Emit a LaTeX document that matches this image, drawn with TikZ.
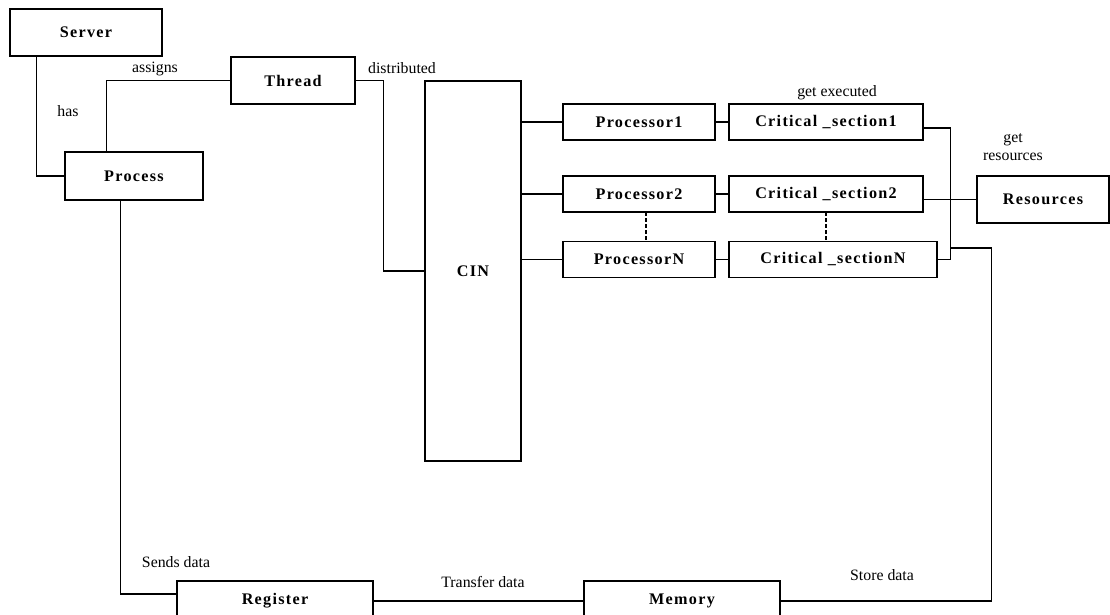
\documentclass[tikz,border=0pt]{standalone}
\usepackage{fontspec}
\setmainfont{Liberation Serif}
\newfontfamily\boxfont[LetterSpace=8]{Liberation Serif}

\begin{document}
\begin{tikzpicture}[font = \fontsize{9}{10.5}\selectfont,
    box/.style = {draw, line width=0.6pt, minimum height=0.72cm, inner sep=0pt,
                  font=\boxfont\fontsize{9.2}{10.5}\selectfont\bfseries},
    link/.style = {line width=0.6pt},
    dots/.style = {line width=1.5pt, dash pattern=on 2.2pt off 1.2pt}]
            \clip (0,0) rectangle (22.2,12.3);

            \node[box, minimum width=3.04cm, minimum height=0.94cm] (server) at (1.72,11.65) {Server};
            \node[box, minimum width=2.48cm, minimum height=0.94cm] (thread) at (5.86,10.69) {Thread};
            \node[box, minimum width=2.76cm, minimum height=0.96cm] (process) at (2.68,8.78) {Process};
            \node[box, minimum width=1.92cm, minimum height=7.6cm] (cin) at (9.46,6.88) {CIN};

            \node[box, minimum width=3.04cm] (proc1) at (12.78,9.86) {Processor1};
            \node[box, minimum width=3.04cm] (proc2) at (12.78,8.42) {Processor2};
            \node[box, minimum width=3.04cm] (procN) at (12.78,7.11) {ProcessorN};

            \node[box, minimum width=3.88cm] (crit1) at (16.52,9.86) {Critical \_section1};
            \node[box, minimum width=3.88cm] (crit2) at (16.52,8.42) {Critical \_section2};
            \node[box, minimum width=4.16cm] (critN) at (16.66,7.11) {Critical \_sectionN};

            \node[box, minimum width=2.64cm, minimum height=0.94cm] (res) at (20.86,8.31) {Resources};
            \node[box, minimum width=3.92cm, minimum height=0.8cm] (register) at (5.5,0.28) {Register};
            \node[box, minimum width=3.92cm, minimum height=0.8cm] (memory) at (13.64,0.28) {Memory};

            \coordinate (bus) at (19.0,7.34);

            % left side
            \draw[link] ([xshift=0.54cm]server.south west) |- (process.west);
            \draw[link] ([xshift=0.84cm]process.north west) |- (thread.west);
            \draw[link] (thread.east) -- ++(0.56,0) |- (cin.west);
            \draw[link] ([xshift=1.12cm]process.south west) |- ([yshift=0.14cm]register.west);

            % CIN to processors
            \draw[link] (cin.east |- proc1.west) -- (proc1.west);
            \draw[link] (cin.east |- proc2.west) -- (proc2.west);
            \draw[link] (cin.east |- procN.west) -- (procN.west);

            \draw[link] (proc1) -- (crit1);
            \draw[link] (proc2) -- (crit2);
            \draw[link] (procN) -- (critN);

            \draw[dots] ([xshift=0.14cm]proc2.south) -- ([xshift=0.14cm]proc2.south |- procN.north);
            \draw[dots] (crit2.south) -- (crit2.south |- critN.north);

            % right side
            \draw[link] ([yshift=-0.12cm]crit1.east) -- ++(0.54,0) |- (critN.east);
            \draw[link] (crit2.east |- res.west) -- (res.west);
            \draw[link] (memory.east) -- ++(4.22,0) |- (bus);
            \draw[link] (register.east) -- (memory.west);

            % labels
            \node (has) at (1.36,10.08) {has};
            \node (assigns) at (3.1,10.92) {assigns};
            \node (distributed) at (8.04,10.94) {distributed};
            \node (executed) at (16.74,10.44) {get executed};
            \node[align=center] (getres) at (20.26,9.36) {get\\resources};
            \node (sends) at (3.52,1.06) {Sends data};
            \node (transfer) at (9.66,0.66) {Transfer data};
            \node (store) at (17.64,0.8) {Store data};
        \end{tikzpicture}
\end{document}
